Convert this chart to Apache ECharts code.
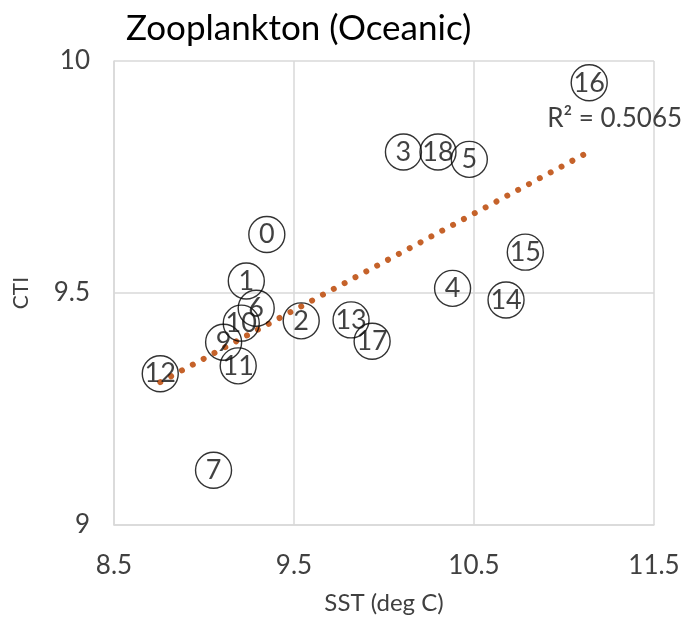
<!DOCTYPE html>
<html>
<head>
<meta charset="utf-8">
<script src="https://cdn.jsdelivr.net/npm/echarts@6/dist/echarts.min.js"></script>
<style>
  html, body { margin: 0; padding: 0; background: #fff; }
  #chart { width: 694px; height: 620px; }
</style>
</head>
<body>
<div id="chart"></div>
<script>
// Sample years (labels inside the circles)
const sampleLabels = ['0', '1', '2', '3', '4', '5', '6', '7', '9', '10', '11', '12', '13', '14', '15', '16', '17', '18'];
// Sea surface temperature (deg C)
const sstValues = [9.349, 9.235, 9.540, 10.108, 10.381, 10.474, 9.290, 9.053, 9.109, 9.207, 9.190, 8.757, 9.817, 10.678, 10.785, 11.140, 9.934, 10.300];
// Community temperature index
const ctiValues = [9.626, 9.526, 9.440, 9.804, 9.510, 9.788, 9.467, 9.118, 9.394, 9.435, 9.343, 9.326, 9.442, 9.485, 9.588, 9.953, 9.396, 9.804];

const xTicks = { min: 8.5, max: 11.5, interval: 1 };
const yTicks = { min: 9, max: 10, interval: 0.5 };
const rSquaredText = 'R² = 0.5065';

// Ordinary least-squares fit for the linear trendline
function linearFit(xs, ys) {
  const n = xs.length;
  const mx = xs.reduce((a, b) => a + b, 0) / n;
  const my = ys.reduce((a, b) => a + b, 0) / n;
  let sxy = 0, sxx = 0;
  for (let i = 0; i < n; i++) {
    sxy += (xs[i] - mx) * (ys[i] - my);
    sxx += (xs[i] - mx) * (xs[i] - mx);
  }
  const slope = sxy / sxx;
  return { slope, intercept: my - slope * mx };
}

const fit = linearFit(sstValues, ctiValues);
const xLo = Math.min(...sstValues);
const xHi = Math.max(...sstValues);
const trendData = [
  [xLo, fit.intercept + fit.slope * xLo],
  [xHi, fit.intercept + fit.slope * xHi]
];

const points = sstValues.map((x, i) => [x, ctiValues[i], sampleLabels[i]]);

const FONT = 'Lato';
const chart = echarts.init(document.getElementById('chart'), null, { renderer: 'canvas' });
chart.setOption({
  backgroundColor: '#ffffff',
  animation: false,
  title: {
    text: 'Zooplankton (Oceanic)',
    left: 121,
    top: 6,
    textStyle: { fontFamily: FONT, fontSize: 35, fontWeight: 'normal', color: '#000000' }
  },
  grid: { left: 114, top: 61, width: 540, height: 467, containLabel: false },
  xAxis: {
    type: 'value',
    min: xTicks.min, max: xTicks.max, interval: xTicks.interval,
    name: 'SST (deg C)',
    nameLocation: 'middle',
    nameGap: 66,
    nameTextStyle: { fontFamily: FONT, fontSize: 24, color: '#404040' },
    axisLine: { show: true, lineStyle: { color: '#d9d9d9', width: 1.5 } },
    axisTick: { show: false },
    axisLabel: { fontFamily: FONT, fontSize: 26, color: '#404040', margin: 28 },
    splitLine: { show: true, lineStyle: { color: '#d9d9d9', width: 1.5 } }
  },
  yAxis: {
    type: 'value',
    min: yTicks.min, max: yTicks.max, interval: yTicks.interval,
    name: 'CTI',
    nameLocation: 'middle',
    nameGap: 82,
    nameTextStyle: { fontFamily: FONT, fontSize: 21, color: '#404040' },
    axisLine: { show: true, lineStyle: { color: '#d9d9d9', width: 1.5 } },
    axisTick: { show: false },
    axisLabel: { fontFamily: FONT, fontSize: 26, color: '#404040', margin: 24 },
    splitLine: { show: true, lineStyle: { color: '#d9d9d9', width: 1.5 } }
  },
  series: [
    {
      type: 'line',
      data: trendData,
      symbol: 'none',
      silent: true,
      z: 1,
      lineStyle: { color: '#c5622a', width: 6, type: [0.01, 12.3], cap: 'round' },
      endLabel: {
        show: true,
        formatter: rSquaredText,
        fontFamily: FONT, fontSize: 26, color: '#404040',
        offset: [-50, -33]
      }
    },
    {
      type: 'scatter',
      data: points,
      z: 2,
      symbol: 'circle',
      symbolSize: 36,
      itemStyle: { color: 'rgba(255,255,255,0)', borderColor: '#000000', borderWidth: 1.4 },
      label: {
        show: true,
        position: 'inside',
        formatter: p => p.value[2],
        fontFamily: FONT, fontSize: 27, color: '#111111'
      }
    }
  ]
});
</script>
</body>
</html>
